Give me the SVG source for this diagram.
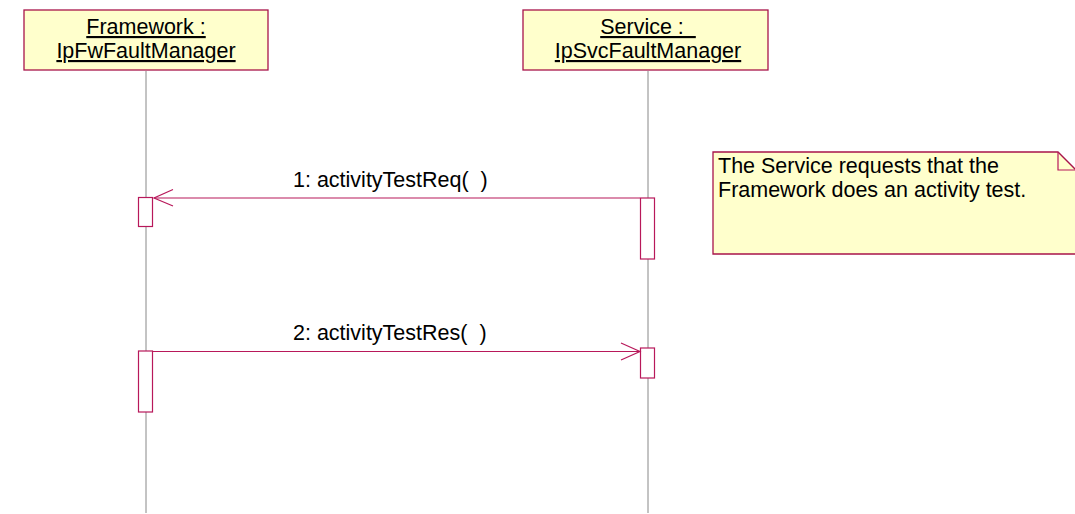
<svg xmlns="http://www.w3.org/2000/svg" width="1075" height="514" viewBox="0 0 1075 514">
<style>
text{font-family:"Liberation Sans",Arial,sans-serif;font-size:21.5px;fill:#000}
.obj{fill:#ffffcc;stroke:#a8144a;stroke-width:1.3}
.life{stroke:#888;stroke-width:1}
.act{fill:#fff;stroke:#b8185a;stroke-width:1.2}
.msg{stroke:#b8185a;stroke-width:1.2;fill:none}
.u{text-decoration:underline}
</style>
<g id="lifelines">
<line class="life" x1="146" y1="71" x2="146" y2="513"/>
<line class="life" x1="648" y1="71" x2="648" y2="513"/>
</g>
<g id="framework">
<rect class="obj" x="24" y="10" width="244" height="60"/>
<text class="u" x="146" y="34" text-anchor="middle">Framework : </text>
<text class="u" x="146" y="58" text-anchor="middle">IpFwFaultManager</text>
</g>
<g id="service">
<rect class="obj" x="523" y="10" width="245" height="60"/>
<text class="u" x="648" y="34" text-anchor="middle" xml:space="preserve">Service :  </text>
<text class="u" x="648" y="58" text-anchor="middle">IpSvcFaultManager</text>
</g>
<g id="activations">
<rect class="act" x="138.5" y="197.5" width="14" height="29"/>
<rect class="act" x="640.5" y="198" width="14" height="61"/>
<rect class="act" x="138.5" y="351" width="14" height="61"/>
<rect class="act" x="640.5" y="348" width="14" height="30"/>
</g>
<g id="connectors">
<line class="msg" x1="640" y1="198" x2="154" y2="198"/>
<polyline class="msg" points="173,189.5 154,198 173,206"/>
<text x="293" y="187" xml:space="preserve">1: activityTestReq(  )</text>
<line class="msg" x1="153" y1="351.5" x2="640" y2="351.5"/>
<polyline class="msg" points="621,343 640,351.5 621,360"/>
<text x="293" y="340" xml:space="preserve">2: activityTestRes(  )</text>
</g>
<g id="note">
<path class="obj" d="M713,152 H1058 L1076,170 V254 H713 Z"/>
<path class="msg" d="M1058,152 V170 H1076"/>
<text x="718" y="173">The Service requests that the</text>
<text x="718" y="197">Framework does an activity test.</text>
</g>
</svg>
